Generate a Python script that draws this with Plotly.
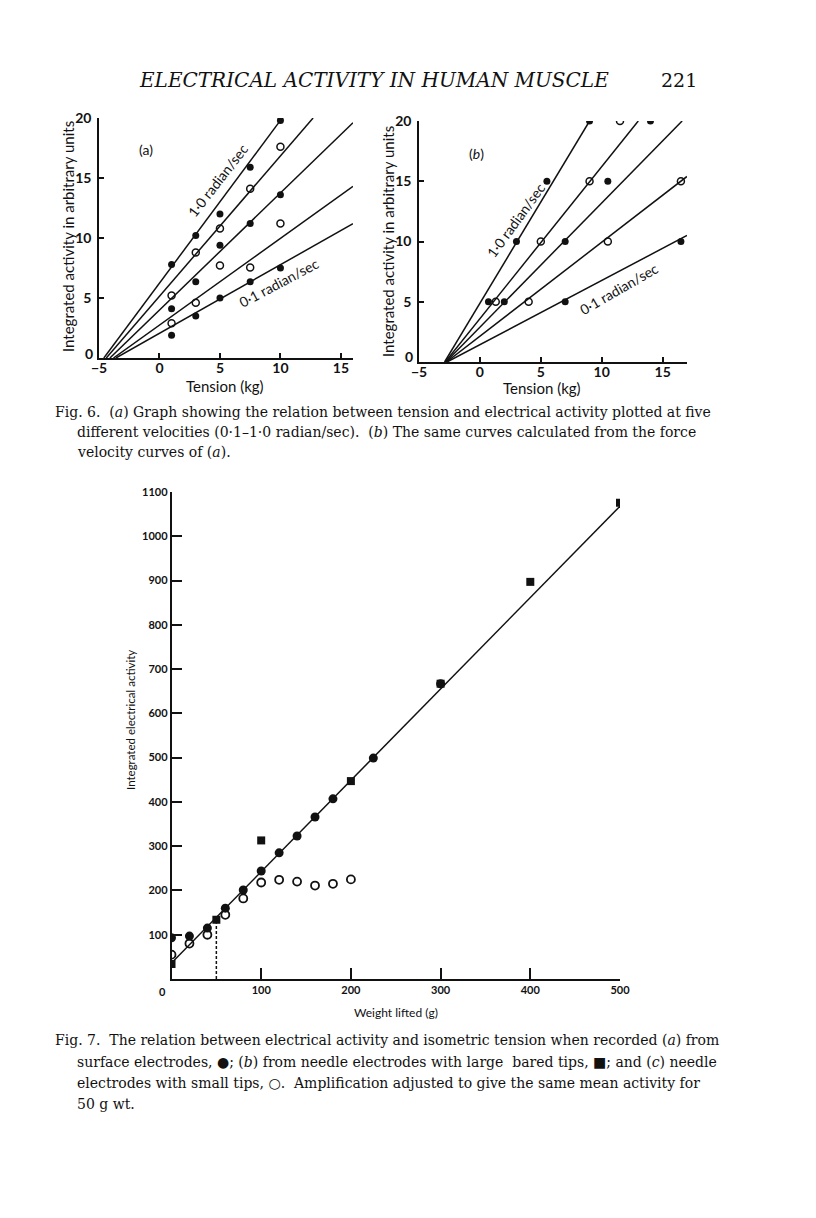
import plotly.graph_objects as go

# the page body keeps an 8px margin, so the figure is 8px smaller and every
# position below is given in window pixels and shifted by that margin
PAGE_W, PAGE_H, BODY = 816, 1218, 8
W, H = PAGE_W - BODY, PAGE_H - BODY

# ---- Fig. 6 (a): measured points, tension (kg) vs integrated activity
a_fill_x = [1, 3, 5, 7.5, 10, 1, 3, 5, 7.5, 10, 1, 3, 5, 7.5, 10]
a_fill_y = [7.8, 10.2, 12.0, 15.9, 19.8, 4.1, 6.35, 9.4, 11.2, 13.6, 1.9, 3.5, 5.0, 6.35, 7.5]
a_open_x = [1, 3, 5, 7.5, 10, 1, 3, 5, 7.5, 10]
a_open_y = [5.2, 8.8, 10.8, 14.1, 17.6, 2.9, 4.6, 7.7, 7.55, 11.2]
# fitted lines: x-intercept and end point
a_line_x0 = [-4.6, -4.4, -4.1, -3.8, -3.6]
a_line_x1 = [10.0, 12.7, 16.0, 16.0, 16.0]
a_line_y1 = [19.8, 20.0, 19.6, 14.3, 11.2]

# ---- Fig. 6 (b): calculated curves
b_fill_x = [0.7, 2, 7, 3, 7, 16.5, 5.5, 10.5, 9, 14]
b_fill_y = [5, 5, 5, 10, 10, 10, 15, 15, 20, 20]
b_open_x = [1.3, 4, 5, 10.5, 9, 16.5, 11.5]
b_open_y = [5, 5, 10, 10, 15, 15, 20]
b_line_x0 = [-2.9, -2.85, -2.8, -2.75, -2.7]
b_line_x1 = [9.0, 13.0, 16.6, 17.0, 17.0]
b_line_y1 = [20.0, 20.0, 20.0, 15.4, 10.5]

# ---- Fig. 7: weight lifted (g) vs integrated electrical activity
surf_x = [0, 20, 40, 60, 80, 100, 120, 140, 160, 180, 225, 300]
surf_y = [93, 97, 115, 160, 201, 244, 285, 323, 366, 407, 499, 667]
large_x = [0, 50, 100, 200, 300, 400, 500]
large_y = [34, 134, 313, 447, 667, 897, 1076]
small_x = [0, 20, 40, 60, 80, 100, 120, 140, 160, 180, 200]
small_y = [55, 80, 100, 145, 182, 218, 224, 220, 211, 215, 225]
fit_x = [0, 500]
fit_y = [36, 1068]
ref_x = [50, 50]
ref_y = [0, 126]

SANS = "Lato"
SERIF = "DejaVu Serif"
INK = "#111111"


def px_x(p):
    return (p - BODY) / W


def px_y(p):
    return 1 - (p - BODY) / H


fig = go.Figure()


def add_panel(xa, ya, x0s, x1s, y1s, fx, fy, ox, oy):
    for x0, x1, y1 in zip(x0s, x1s, y1s):
        fig.add_trace(go.Scatter(x=[x0, x1], y=[0, y1], mode="lines",
                                 line=dict(color=INK, width=1.5),
                                 xaxis=xa, yaxis=ya, showlegend=False, hoverinfo="skip"))
    fig.add_trace(go.Scatter(x=fx, y=fy, mode="markers",
                             marker=dict(symbol="circle", size=7, color=INK),
                             xaxis=xa, yaxis=ya, showlegend=False))
    fig.add_trace(go.Scatter(x=ox, y=oy, mode="markers",
                             marker=dict(symbol="circle-open", size=7, color=INK,
                                         line=dict(width=1.5)),
                             xaxis=xa, yaxis=ya, showlegend=False))


add_panel("x", "y", a_line_x0, a_line_x1, a_line_y1, a_fill_x, a_fill_y, a_open_x, a_open_y)
add_panel("x2", "y2", b_line_x0, b_line_x1, b_line_y1, b_fill_x, b_fill_y, b_open_x, b_open_y)

# Fig. 7
fig.add_trace(go.Scatter(x=fit_x, y=fit_y, mode="lines", line=dict(color=INK, width=1.5),
                         xaxis="x3", yaxis="y3", showlegend=False))
fig.add_trace(go.Scatter(x=ref_x, y=ref_y, mode="lines",
                         line=dict(color=INK, width=1.5, dash="3px,2px"),
                         xaxis="x3", yaxis="y3", showlegend=False))
fig.add_trace(go.Scatter(x=small_x, y=small_y, mode="markers",
                         marker=dict(symbol="circle-open", size=8, color=INK, line=dict(width=1.8)),
                         xaxis="x3", yaxis="y3", showlegend=False))
fig.add_trace(go.Scatter(x=surf_x, y=surf_y, mode="markers",
                         marker=dict(symbol="circle", size=9, color=INK),
                         xaxis="x3", yaxis="y3", showlegend=False))
fig.add_trace(go.Scatter(x=large_x, y=large_y, mode="markers",
                         marker=dict(symbol="square", size=8, color=INK),
                         xaxis="x3", yaxis="y3", showlegend=False))

tick6 = dict(family=SANS, size=14, color=INK, weight="bold")
ax6 = dict(showline=True, linecolor=INK, linewidth=1.5, ticks="inside", tickcolor=INK,
           ticklen=5, tickwidth=1.5, showgrid=False, zeroline=False, automargin=False,
           tickfont=tick6)
ax7 = dict(showline=True, linecolor=INK, linewidth=1.5, ticks="inside", tickcolor=INK,
           ticklen=11, tickwidth=1.5, showgrid=False, zeroline=False, automargin=False,
           tickfont=dict(family=SANS, size=11, color=INK, weight="bold"))

fig.update_layout(
    width=W, height=H,
    margin=dict(l=0, r=0, t=0, b=0, autoexpand=False),
    paper_bgcolor="white", plot_bgcolor="white",
    xaxis=dict(ax6, domain=[px_x(99), px_x(353)], range=[-5, 16], anchor="y",
               tickvals=[-5, 0, 5, 10, 15], ticklabelstandoff=-4),
    yaxis=dict(ax6, domain=[px_y(358), px_y(118)], range=[0, 20], anchor="x",
               tickvals=[5, 10, 15, 20], ticklabelstandoff=3),
    xaxis2=dict(ax6, domain=[px_x(419), px_x(687)], range=[-5, 17], anchor="y2",
                tickvals=[-5, 0, 5, 10, 15], ticklabelstandoff=-4),
    yaxis2=dict(ax6, domain=[px_y(362), px_y(121)], range=[0, 20], anchor="x2",
                tickvals=[5, 10, 15, 20], ticklabelstandoff=3),
    xaxis3=dict(ax7, domain=[px_x(171.5), px_x(620)], range=[0, 500], anchor="y3",
                tickvals=[100, 200, 300, 400, 500]),
    yaxis3=dict(ax7, domain=[px_y(979), px_y(492)], range=[0, 1100], anchor="x3",
                tickvals=[100, 200, 300, 400, 500, 600, 700, 800, 900, 1000, 1100]),
)

# the "0" of each Fig. 6 activity axis sits a little above the corner
for xr, yr in (("x", "y"), ("x2", "y2")):
    fig.add_annotation(x=-5, y=0, xref=xr, yref=yr, text="0", showarrow=False,
                       xanchor="right", yanchor="middle", xshift=-4, yshift=5, font=tick6)

# axis titles
titles = [
    (68, 237, "Integrated activity in arbitrary units", -90, 15),
    (388, 242, "Integrated activity in arbitrary units", -90, 15),
    (225, 386, "Tension (kg)", 0, 15),
    (542, 388, "Tension (kg)", 0, 15),
    (130, 720, "Integrated electrical activity", -90, 11.5),
    (396, 1012, "Weight lifted (g)", 0, 12),
]
for x0, y0, t, ang, sz in titles:
    fig.add_annotation(x=px_x(x0), y=px_y(y0), xref="paper", yref="paper", text=t,
                       textangle=ang, showarrow=False, xanchor="center", yanchor="middle",
                       font=dict(family=SANS, size=sz, color=INK))

lab = dict(showarrow=False, font=dict(family=SANS, size=14, color=INK))
fig.add_annotation(x=4.8, y=14.8, xref="x", yref="y", text="1·0 radian/sec", textangle=-52, **lab)
fig.add_annotation(x=9.9, y=6.3, xref="x", yref="y", text="0·1 radian/sec", textangle=-28, **lab)
fig.add_annotation(x=-1.1, y=17.4, xref="x", yref="y", text="(a)", **lab)
fig.add_annotation(x=3.0, y=11.8, xref="x2", yref="y2", text="1·0 radian/sec", textangle=-54, **lab)
fig.add_annotation(x=11.45, y=6.1, xref="x2", yref="y2", text="0·1 radian/sec", textangle=-30, **lab)
fig.add_annotation(x=-0.3, y=17.3, xref="x2", yref="y2", text="(<i>b</i>)", **lab)
fig.add_annotation(x=0, y=0, xref="x3", yref="y3", text="0", xshift=-9, yshift=-12,
                   showarrow=False, font=dict(family=SANS, size=11, color=INK, weight="bold"))

# running head
fig.add_annotation(x=px_x(374), y=px_y(80), xref="paper", yref="paper", showarrow=False,
                   xanchor="center", yanchor="middle",
                   text="<i>ELECTRICAL ACTIVITY IN HUMAN MUSCLE</i>",
                   font=dict(family=SERIF, size=20, color=INK))
fig.add_annotation(x=px_x(679), y=px_y(80), xref="paper", yref="paper", showarrow=False,
                   xanchor="center", yanchor="middle",
                   text="221", font=dict(family=SERIF, size=19, color=INK))

cap6 = [
    (53, 412, "Fig. 6.  (<i>a</i>) Graph showing the relation between tension and electrical activity plotted at five"),
    (75, 432, "different velocities (0·1–1·0 radian/sec).  (<i>b</i>) The same curves calculated from the force"),
    (75, 452, "velocity curves of (<i>a</i>)."),
]
cap7 = [
    (53, 1040, "Fig. 7.  The relation between electrical activity and isometric tension when recorded (<i>a</i>) from"),
    (75, 1062, "surface electrodes, ●; (<i>b</i>) from needle electrodes with large  bared tips, ■; and (<i>c</i>) needle"),
    (75, 1083, "electrodes with small tips, ○.  Amplification adjusted to give the same mean activity for"),
    (75, 1104, "50 g wt."),
]
for x0, y0, t in cap6 + cap7:
    fig.add_annotation(x=px_x(x0), y=px_y(y0), xref="paper", yref="paper", xanchor="left",
                       yanchor="middle", showarrow=False, text=t,
                       font=dict(family=SERIF, size=14, color=INK))

fig.write_html("out.html")
